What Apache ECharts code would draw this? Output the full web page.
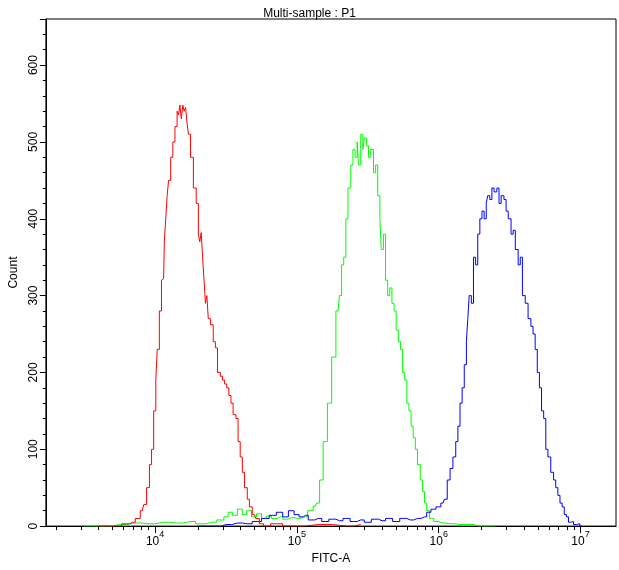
<!DOCTYPE html>
<html><head><meta charset="utf-8">
<script src="https://cdn.jsdelivr.net/npm/echarts@6/dist/echarts.min.js"></script>
<style>html,body{margin:0;padding:0;background:#fff}#c{width:619px;height:570px}</style>
</head><body><div id="c"></div>
<script>
const redX=[3.60,3.73,3.80,3.84,3.88,3.91,3.93,3.95,3.97,3.98,4.00,4.01,4.02,4.04,4.05,4.06,4.07,4.08,4.09,4.10,4.12,4.13,4.15,4.16,4.17,4.18,4.19,4.20,4.21,4.22,4.23,4.24,4.26,4.28,4.30,4.31,4.32,4.33,4.34,4.35,4.36,4.37,4.38,4.40,4.42,4.43,4.45,4.47,4.48,4.50,4.51,4.53,4.54,4.56,4.58,4.59,4.61,4.62,4.64,4.66,4.67,4.70,4.72,4.75,4.78,4.85,4.95,5.15,5.35,5.45];
const redY=[0,0,3,5,10,20,28,50,80,100,150,190,230,280,320,322,370,400,430,450,480,500,520,540,535,548,530,548,540,545,525,510,480,440,420,380,370,382,350,320,290,300,270,262,240,232,200,195,190,185,180,170,160,145,140,110,90,70,50,35,25,15,10,3,0,3,0,2,0,2];
const greenX=[3.50,3.63,3.75,3.85,3.95,4.05,4.15,4.25,4.32,4.40,4.47,4.50,4.53,4.56,4.60,4.63,4.66,4.70,4.73,4.77,4.80,4.84,4.88,4.92,4.96,5.00,5.05,5.10,5.13,5.15,5.17,5.20,5.23,5.26,5.29,5.31,5.32,5.34,5.35,5.37,5.39,5.40,5.42,5.43,5.44,5.46,5.47,5.48,5.50,5.51,5.53,5.55,5.56,5.58,5.59,5.60,5.62,5.63,5.65,5.66,5.68,5.69,5.71,5.72,5.74,5.75,5.77,5.78,5.80,5.81,5.83,5.84,5.86,5.88,5.89,5.91,5.92,5.95,5.98,6.02,6.08,6.15,6.22,6.28,6.40];
const greenY=[0,0,2,4,3,5,4,6,3,5,8,12,18,14,22,15,20,12,16,10,13,10,12,9,11,10,12,20,26,30,60,110,160,220,280,300,340,350,400,440,470,490,480,500,470,510,490,505,495,480,490,460,470,430,400,360,380,320,300,310,290,280,255,240,230,200,190,160,150,130,115,100,80,60,45,30,20,10,6,4,3,2,2,0,0];
const blueX=[4.30,4.43,4.50,4.58,4.65,4.72,4.78,4.83,4.88,4.92,4.96,5.00,5.03,5.06,5.10,5.15,5.20,5.25,5.30,5.35,5.40,5.45,5.50,5.55,5.60,5.65,5.70,5.75,5.80,5.85,5.90,5.93,5.96,6.00,6.03,6.05,6.07,6.09,6.11,6.13,6.14,6.16,6.17,6.19,6.20,6.21,6.22,6.24,6.25,6.27,6.28,6.30,6.31,6.33,6.34,6.35,6.37,6.38,6.40,6.42,6.43,6.45,6.47,6.48,6.50,6.52,6.53,6.55,6.57,6.58,6.60,6.62,6.64,6.66,6.67,6.69,6.70,6.72,6.73,6.75,6.76,6.78,6.80,6.82,6.83,6.85,6.86,6.88,6.89,6.91,6.92,6.94,6.96,6.98,7.01];
const blueY=[0,0,2,4,3,6,10,14,18,12,20,15,12,14,8,10,6,9,7,10,6,8,5,9,7,10,6,10,8,10,12,18,22,25,30,35,60,75,90,110,130,160,180,210,240,270,300,290,350,340,380,400,410,400,420,430,425,440,435,440,420,430,425,410,400,380,385,360,340,350,300,290,270,260,250,230,200,180,150,140,100,90,70,60,50,40,30,25,15,12,5,6,2,3,0];
const yTicks=[0,100,200,300,400,500,600];
const xDecades=[4,5,6,7];
const X0=3.23,X1=7.25;
const minorX=[];
for(let d=3;d<=7;d++)for(let k=2;k<=9;k++){const v=d+Math.log10(k);if(v>X0&&v<X1)minorX.push(v);}
const ch=echarts.init(document.getElementById('c'));
const pair=(xs,ys)=>xs.map((x,i)=>[x,ys[i]]);
const lineS=(d,c)=>({type:'line',data:d,showSymbol:false,lineStyle:{color:c,width:1},itemStyle:{color:c},animation:false,step:'middle'});
const F='Liberation Sans';
ch.setOption({
  title:{text:'Multi-sample : P1',left:'center',top:3,textStyle:{fontFamily:F,fontSize:12,fontWeight:'normal',color:'#000'}},
  grid:{left:38,right:3,top:19,bottom:35,show:true,borderColor:'#000',borderWidth:1},
  xAxis:[{type:'value',min:X0,max:X1,position:'bottom',axisLine:{show:true,lineStyle:{color:'#000'}},splitLine:{show:false},
    axisTick:{show:true,length:7,customValues:xDecades,lineStyle:{color:'#000'}},
    axisLabel:{customValues:xDecades,formatter:v=>'{b|10}{s|'+Math.round(v)+'}',margin:4,
      rich:{b:{color:'#000',fontFamily:F,fontSize:12,verticalAlign:'bottom',padding:[6,0,0,0]},s:{color:'#000',fontFamily:F,fontSize:9,verticalAlign:'top',padding:[0,0,6,0]}}},
    name:'FITC-A',nameLocation:'middle',nameGap:24,nameTextStyle:{color:'#000',fontFamily:F,fontSize:12}},
   {type:'value',min:X0,max:X1,position:'bottom',axisLine:{show:false},splitLine:{show:false},
    axisTick:{show:true,length:4,customValues:minorX,lineStyle:{color:'#000'}},axisLabel:{show:false}}],
  yAxis:{type:'value',min:0,max:660,interval:100,axisLine:{show:true,lineStyle:{color:'#000'}},splitLine:{show:false},
    axisTick:{show:true,length:6,lineStyle:{color:'#000'}},minorTick:{show:true,splitNumber:5,length:3,lineStyle:{color:'#000'}},
    axisLabel:{rotate:90,color:'#000',fontFamily:F,fontSize:12,margin:6,formatter:v=>yTicks.includes(v)?String(v):''},
    name:'Count',nameLocation:'middle',nameGap:24,nameTextStyle:{color:'#000',fontFamily:F,fontSize:12}},
  series:[lineS(pair(greenX,greenY),'#00ff00'),lineS(pair(blueX,blueY),'#0000ff'),lineS(pair(redX,redY),'#ff0000')]
});
</script></body></html>
